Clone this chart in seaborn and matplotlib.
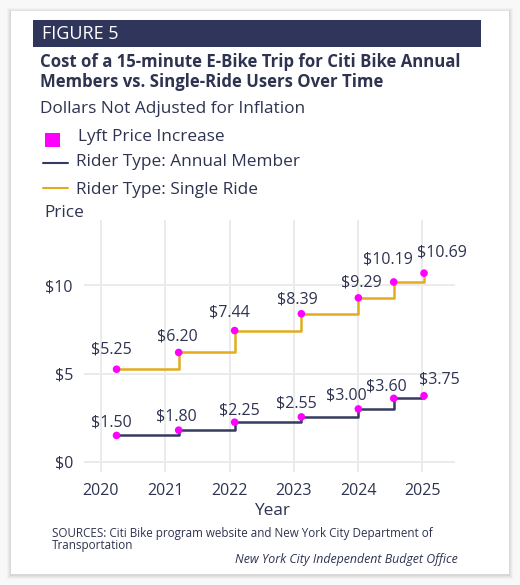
import datetime as dt
import matplotlib
matplotlib.use("Agg")
import matplotlib.pyplot as plt
import matplotlib.dates as mdates
from matplotlib.patches import Rectangle
from matplotlib.lines import Line2D
import pandas as pd
import seaborn as sns

# ---- data ----
change_dates = ["2020-03-30", "2021-03-18", "2022-01-30", "2023-02-13",
                "2024-01-03", "2024-07-22", "2025-01-10"]
single_ride = [5.25, 6.20, 7.44, 8.39, 9.29, 10.19, 10.69]
annual_member = [1.50, 1.80, 2.25, 2.55, 3.00, 3.60, 3.75]
year_ticks = [2020, 2021, 2022, 2023, 2024, 2025]
y_ticks = [0, 5, 10]
y_tick_labels = ["$0", "$5", "$10"]

# label placement (pixel offsets from point)
single_offsets = [(-5, 20), (-1, 16), (-5, 18), (-4, 14), (3, 15), (-6, 22), (18, 21)]
annual_offsets = [(-5, 13), (-2, 14), (5, 12), (-5, 13), (-12, 13), (-7, 12), (15, 16)]

NAVY = "#353a5e"
GOLD = "#e3ac1e"
MAGENTA = "#ff00ff"
HEADER = "#30365b"
TEXT = "#2e3350"
GRID = "#ebebeb"

sns.set_theme(style="white")
plt.rcParams["font.family"] = ["Open Sans", "DejaVu Sans"]

W, H = 520, 585
fig = plt.figure(figsize=(W / 100, H / 100), dpi=100, facecolor="#f8f8f8")

def px_rect(x0, y0, x1, y1, **kw):
    return Rectangle((x0 / W, 1 - y1 / H), (x1 - x0) / W, (y1 - y0) / H,
                     transform=fig.transFigure, **kw)

# soft card shadow
for i, a in enumerate([0.025, 0.03, 0.035, 0.04]):
    d = 4 - i
    fig.patches.append(px_rect(11 - d, 11 - d + 1, 509 + d, 574 + d + 1,
                               facecolor="#000000", alpha=a, edgecolor="none", zorder=0))
fig.patches.append(px_rect(11, 11, 509, 574, facecolor="white", edgecolor="none", zorder=1))
# header bar
fig.patches.append(px_rect(33, 20, 481, 47, facecolor=HEADER, edgecolor="none", zorder=2))

def ftext(x, y, s, **kw):
    fig.text(x / W, 1 - y / H, s, **kw)

ftext(42, 34, "FIGURE 5", color="white", fontsize=13, va="center", ha="left", zorder=3)
ftext(40, 72, "Cost of a 15-minute E-Bike Trip for Citi Bike Annual\nMembers vs. Single-Ride Users Over Time",
      color=TEXT, fontsize=12.1, fontweight="bold", va="center", ha="left", linespacing=1.08, zorder=3)
ftext(40, 109, "Dollars Not Adjusted for Inflation", color=TEXT, fontsize=12.4, va="center", zorder=3)

# legend (manual)
fig.patches.append(px_rect(45, 133, 60, 147, facecolor=MAGENTA, edgecolor="none", zorder=3))
ftext(78, 137, "Lyft Price Increase", color=TEXT, fontsize=12.4, va="center", zorder=3)
fig.lines.append(Line2D([43 / W, 68 / W], [1 - 163 / H, 1 - 163 / H], color=NAVY, lw=1.5,
                        transform=fig.transFigure, zorder=3))
ftext(76, 162, "Rider Type: Annual Member", color=TEXT, fontsize=12.4, va="center", zorder=3)
fig.lines.append(Line2D([43 / W, 68 / W], [1 - 188 / H, 1 - 188 / H], color=GOLD, lw=1.5,
                        transform=fig.transFigure, zorder=3))
ftext(76, 190, "Rider Type: Single Ride", color=TEXT, fontsize=12.4, va="center", zorder=3)
ftext(44, 213, "Price", color=TEXT, fontsize=12.4, va="center", zorder=3)

# footer
ftext(52, 539.5, "SOURCES: Citi Bike program website and New York City Department of\nTransportation",
      color=TEXT, fontsize=8.4, va="center", linespacing=1.0, zorder=3)
ftext(458, 559, "New York City Independent Budget Office", color=TEXT, fontsize=8.9,
      style="italic", ha="right", va="center", zorder=3)

# ---- plot ----
ax_l, ax_r, ax_t, ax_b = 84, 455, 220, 472
ax = fig.add_axes([ax_l / W, 1 - ax_b / H, (ax_r - ax_l) / W, (ax_b - ax_t) / H], zorder=5)
ax.set_facecolor("none")

dates = pd.to_datetime(change_dates)
df = pd.DataFrame({
    "date": list(dates) * 2,
    "price": single_ride + annual_member,
    "rider": ["Single Ride"] * len(single_ride) + ["Annual Member"] * len(annual_member),
})

sns.lineplot(data=df, x="date", y="price", hue="rider",
             palette={"Single Ride": GOLD, "Annual Member": NAVY},
             drawstyle="steps-post", linewidth=1.8, legend=False, ax=ax, zorder=3)
sns.scatterplot(data=df, x="date", y="price", color=MAGENTA, s=30, edgecolor="none",
                legend=False, ax=ax, zorder=4)

for vals, offs in ((single_ride, single_offsets), (annual_member, annual_offsets)):
    for d, v, (dx, dy) in zip(dates, vals, offs):
        ax.annotate(f"${v:.2f}", xy=(d, v), xytext=(dx, dy), textcoords="offset pixels",
                    ha="center", va="center", fontsize=11.5, color=TEXT, zorder=6)

ax.set_xlim(mdates.date2num(dt.datetime(2019, 9, 27)), mdates.date2num(dt.datetime(2025, 7, 5)))
ax.set_ylim(-0.57, 13.7)
ax.set_xticks([mdates.date2num(dt.datetime(y, 1, 1)) for y in year_ticks])
ax.set_xticklabels([str(y) for y in year_ticks])
ax.set_yticks(y_ticks)
ax.set_yticklabels(y_tick_labels)
ax.tick_params(axis="both", length=0, labelsize=11.5, labelcolor=TEXT)
ax.tick_params(axis="x", pad=8)
ax.tick_params(axis="y", pad=8)
ax.grid(True, color=GRID, linewidth=1.4)
ax.set_axisbelow(True)
for s in ax.spines.values():
    s.set_visible(False)
ax.set_xlabel("")
ax.set_ylabel("")
ftext(273, 511, "Year", color=TEXT, fontsize=12.4, ha="center", va="center", zorder=6)

fig.savefig("out.png", dpi=100, facecolor=fig.get_facecolor())
